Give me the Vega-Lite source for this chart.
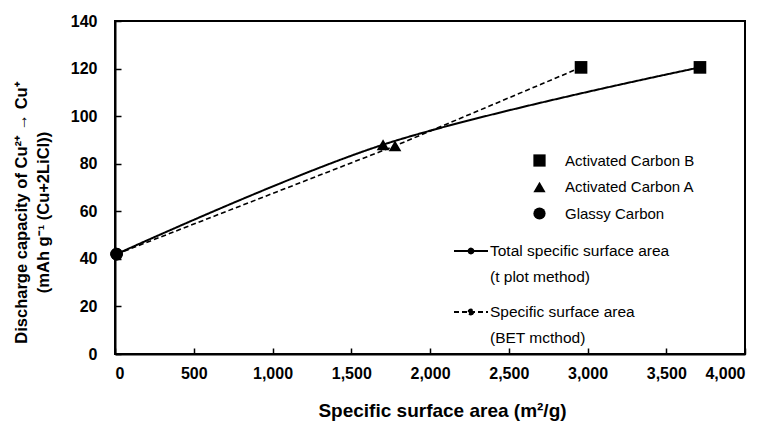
{
  "$schema": "https://vega.github.io/schema/vega-lite/v6.json",
  "width": 630,
  "height": 333,
  "autosize": "none",
  "padding": {"left": 115, "top": 21, "right": 22, "bottom": 69},
  "background": "white",
  "config": {
    "view": {"stroke": "black", "strokeWidth": 2},
    "font": "Liberation Sans"
  },
  "data": {
    "values": [
      {"method": "t", "sample": "Glassy Carbon", "x": 10, "y": 42},
      {"method": "t", "sample": "Activated Carbon A", "x": 1702, "y": 88},
      {"method": "t", "sample": "Activated Carbon B", "x": 3714, "y": 120.5},
      {"method": "BET", "sample": "Glassy Carbon", "x": 10, "y": 42},
      {"method": "BET", "sample": "Activated Carbon A", "x": 1778, "y": 87.5},
      {"method": "BET", "sample": "Activated Carbon B", "x": 2959, "y": 120.5}
    ]
  },
  "encoding": {
    "x": {
      "field": "x", "type": "quantitative",
      "scale": {"domain": [0, 4000], "nice": false},
      "axis": {
        "values": [0, 500, 1000, 1500, 2000, 2500, 3000, 3500, 4000],
        "format": ",d",
        "grid": false,
        "domainColor": "black", "domainWidth": 2,
        "tickColor": "black", "tickWidth": 1.5, "tickSize": -6,
        "labelFont": "Liberation Sans", "labelFontSize": 16, "labelFontWeight": "bold", "labelColor": "black",
        "labelPadding": 17,
        "title": "Specific surface area (m²/g)",
        "titleFont": "Liberation Sans", "titleFontSize": 19, "titleFontWeight": "bold", "titleColor": "black",
        "titleX": 327, "titleY": 56, "titleBaseline": "middle"
      }
    },
    "y": {
      "field": "y", "type": "quantitative",
      "scale": {"domain": [0, 140], "nice": false},
      "axis": {
        "values": [0, 20, 40, 60, 80, 100, 120, 140],
        "grid": false,
        "domainColor": "black", "domainWidth": 2,
        "tickColor": "black", "tickWidth": 1.5, "tickSize": -6,
        "labelFont": "Liberation Sans", "labelFontSize": 16, "labelFontWeight": "bold", "labelColor": "black",
        "labelPadding": 24,
        "title": ["Discharge capacity of Cu²⁺ → Cu⁺", "(mAh g⁻¹ (Cu+2LiCl))"],
        "titleFont": "Liberation Sans", "titleFontSize": 16.5, "titleFontWeight": "bold", "titleColor": "black",
        "titleX": -94, "titleY": 191, "titleAngle": -90, "titleAlign": "center", "titleBaseline": "middle", "titleLineHeight": 22
      }
    }
  },
  "layer": [
    {
      "transform": [{"filter": "datum.method == 't'"}],
      "mark": {"type": "line", "color": "black", "strokeWidth": 2, "interpolate": "catmull-rom"},
      "encoding": {
        "order": {"field": "x", "type": "quantitative"},
        "strokeDash": {
          "field": "method", "type": "nominal",
          "scale": {"domain": ["t", "BET"], "range": [[1, 0], [5, 3]]},
          "legend": {
            "orient": "none", "legendX": 338, "legendY": 212,
            "title": null, "padding": 0,
            "symbolType": "M-1,0H1M-0.14,0A0.14,0.14,0,1,1,0.14,0A0.14,0.14,0,1,1,-0.14,0",
            "symbolSize": 1156, "symbolStrokeColor": "black", "symbolStrokeWidth": 2, "symbolFillColor": "black",
            "labelExpr": "datum.label == 't' ? ['Total specific surface area', '(t  plot method)'] : ['Specific surface area', '(BET mcthod)']",
            "labelFont": "Liberation Sans", "labelFontSize": 15.5, "labelColor": "black",
            "labelBaseline": "top", "labelOffset": 1, "labelLimit": 400,
            "rowPadding": 8,
            "encode": {"labels": {"update": {"dy": {"value": -7}, "lineHeight": {"value": 26}}}}
          }
        }
      }
    },
    {
      "transform": [{"filter": "datum.method == 'BET'"}],
      "mark": {"type": "line", "color": "black", "strokeWidth": 1.6, "strokeDash": [5, 3]},
      "encoding": {
        "order": {"field": "x", "type": "quantitative"}
      }
    },
    {
      "mark": {"type": "point", "filled": true, "color": "black", "opacity": 1, "size": 160},
      "encoding": {
        "shape": {
          "field": "sample", "type": "nominal",
          "scale": {"domain": ["Activated Carbon B", "Activated Carbon A", "Glassy Carbon"], "range": ["square", "triangle-up", "circle"]},
          "legend": {
            "orient": "none", "legendX": 417, "legendY": 132,
            "title": null, "padding": 0,
            "symbolFillColor": "black", "symbolStrokeColor": "black", "symbolSize": 150, "symbolOpacity": 1,
            "labelFont": "Liberation Sans", "labelFontSize": 15, "labelColor": "black",
            "labelOffset": 18, "rowPadding": 8.5
          }
        }
      }
    }
  ]
}
